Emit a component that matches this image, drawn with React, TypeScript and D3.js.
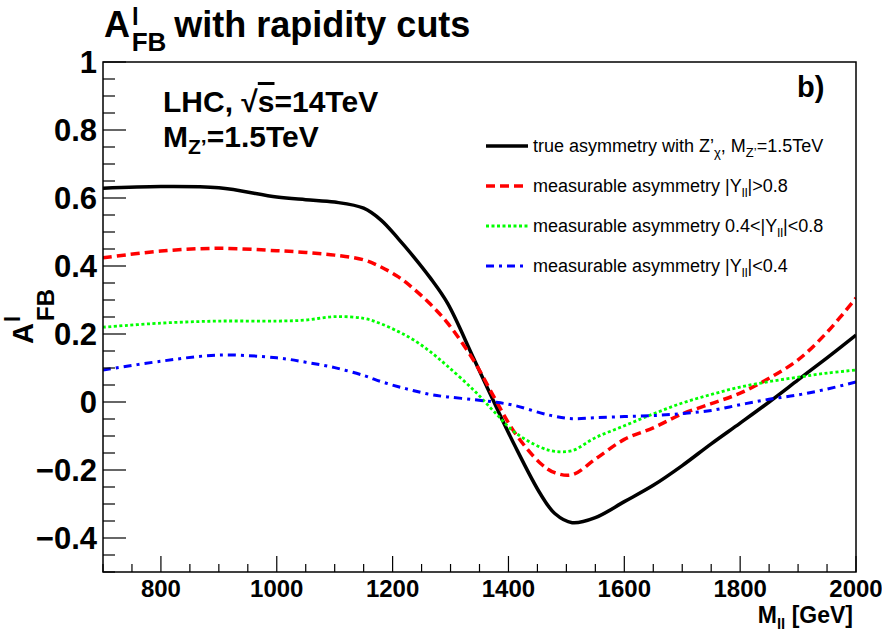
import React from "react";
import * as d3 from "d3";

const massGrid = [700, 800, 900, 1000, 1050, 1100, 1150, 1180, 1210, 1235, 1265, 1295, 1340, 1375, 1410, 1455, 1480, 1510, 1550, 1600, 1650, 1700, 1750, 1800, 1850, 1900, 1950, 2000];
const trueAfb = [0.629, 0.634, 0.63, 0.603, 0.595, 0.588, 0.57, 0.535, 0.48, 0.43, 0.365, 0.29, 0.128, 0.0, -0.125, -0.27, -0.328, -0.355, -0.34, -0.293, -0.245, -0.187, -0.123, -0.062, 0.0, 0.065, 0.13, 0.197];
const redAfb = [0.424, 0.444, 0.452, 0.445, 0.44, 0.432, 0.418, 0.397, 0.368, 0.335, 0.288, 0.232, 0.122, 0.015, -0.088, -0.18, -0.208, -0.214, -0.168, -0.11, -0.076, -0.035, -0.005, 0.026, 0.07, 0.124, 0.205, 0.306];
const greenAfb = [0.22, 0.232, 0.238, 0.238, 0.241, 0.251, 0.246, 0.23, 0.207, 0.184, 0.148, 0.105, 0.035, -0.028, -0.088, -0.133, -0.145, -0.143, -0.105, -0.07, -0.035, -0.003, 0.022, 0.044, 0.06, 0.073, 0.085, 0.094];
const blueAfb = [0.094, 0.12, 0.138, 0.13, 0.117, 0.101, 0.078, 0.06, 0.045, 0.034, 0.022, 0.015, 0.007, 0.0, -0.01, -0.032, -0.042, -0.049, -0.046, -0.043, -0.04, -0.034, -0.025, -0.008, 0.008, 0.021, 0.038, 0.059];

const xMajorTicks = [800, 1000, 1200, 1400, 1600, 1800, 2000];
const yMajorTicks = [-0.4, -0.2, 0, 0.2, 0.4, 0.6, 0.8, 1];

const FONT = "'Liberation Sans', Arial, Helvetica, sans-serif";

export default function App() {
  const left = 103, right = 856, top = 62, bottom = 572;
  const x = d3.scaleLinear().domain([700, 2000]).range([left, right]);
  const y = d3.scaleLinear().domain([-0.5, 1]).range([bottom, top]);

  const line = (vals: number[]) =>
    d3.line<number>().x((_, i) => x(massGrid[i])).y((v) => y(v)).curve(d3.curveCatmullRom.alpha(0.5))(vals) || "";

  const xMinor = d3.range(700, 2000.1, 50).filter((m) => m % 200 !== 0);
  const yMinor = d3.range(-0.5, 1.0001, 0.05).map((v) => +v.toFixed(2)).filter((v) => Math.abs(Math.round(v * 5) - v * 5) > 1e-6);

  const series = [
    { vals: trueAfb, color: "#000", width: 3.5, dash: undefined as string | undefined },
    { vals: redAfb, color: "#ff0000", width: 3.5, dash: "9,5" },
    { vals: greenAfb, color: "#00ff00", width: 2.8, dash: "3,2.5" },
    { vals: blueAfb, color: "#0000ff", width: 3, dash: "8,5,3,5" },
  ];

  const legendY = [146, 186, 226, 266];

  return (
    <svg width={882} height={632} style={{ position: "absolute", left: 0, top: 0, background: "#fff" }} fontFamily={FONT}>
      <rect x={0} y={0} width={882} height={632} fill="#fff" />
      {/* title */}
      <text x={104} y={37} fontSize={36} fontWeight="bold">
        A<tspan fontSize={24} dx={2} dy={-12}>l</tspan>
        <tspan fontSize={26} dx={-7} dy={26}>FB</tspan>
        <tspan dx={8} dy={-14}>with rapidity cuts</tspan>
      </text>

      <defs>
        <clipPath id="plotclip">
          <rect x={left} y={top} width={right - left} height={bottom - top} />
        </clipPath>
      </defs>

      {/* curves */}
      <g clipPath="url(#plotclip)">
        {series.map((s, i) => (
          <path key={i} d={line(s.vals)} fill="none" stroke={s.color} strokeWidth={s.width} strokeDasharray={s.dash} />
        ))}
      </g>

      {/* frame */}
      <rect x={left} y={top} width={right - left} height={bottom - top} fill="none" stroke="#000" strokeWidth={1.5} />

      {/* y ticks */}
      {yMajorTicks.map((v) => (
        <g key={"ym" + v}>
          <line x1={left} x2={left + 23} y1={y(v)} y2={y(v)} stroke="#000" strokeWidth={1.2} />
          <text x={97} y={y(v) + 11} fontSize={31} fontWeight="bold" textAnchor="end">
            {v === 0 ? "0" : v === 1 ? "1" : d3.format(".1f")(v)}
          </text>
        </g>
      ))}
      {yMinor.map((v) => (
        <line key={"yn" + v} x1={left} x2={left + 12} y1={y(v)} y2={y(v)} stroke="#000" strokeWidth={1.2} />
      ))}

      {/* x ticks */}
      {xMajorTicks.map((m) => (
        <g key={"xm" + m}>
          <line x1={x(m)} x2={x(m)} y1={bottom} y2={bottom - 16} stroke="#000" strokeWidth={1.2} />
          <text x={x(m)} y={bottom + 25} fontSize={24} fontWeight="bold" textAnchor="middle">{m}</text>
        </g>
      ))}
      {xMinor.map((m) => (
        <line key={"xn" + m} x1={x(m)} x2={x(m)} y1={bottom} y2={bottom - 8} stroke="#000" strokeWidth={1.2} />
      ))}

      {/* axis titles */}
      <text x={853} y={623} fontSize={23} fontWeight="bold" textAnchor="end">
        M<tspan fontSize={15} dy={6}>ll</tspan><tspan dy={-6}> [GeV]</tspan>
      </text>
      <g transform="translate(33,344) rotate(-90)">
        <text x={0} y={0} fontSize={29} fontWeight="bold">
          A<tspan fontSize={22} dx={1} dy={-13}>l</tspan>
          <tspan fontSize={24} dx={-5} dy={34}>FB</tspan>
        </text>
      </g>

      {/* labels */}
      <text x={163} y={112} fontSize={30} fontWeight="bold">
        LHC, <tspan>√</tspan><tspan textDecoration="overline">s</tspan>=14TeV
      </text>
      <text x={163} y={147} fontSize={30} fontWeight="bold">
        M<tspan fontSize={21} dy={7}>Z’</tspan><tspan dy={-7}>=1.5TeV</tspan>
      </text>
      <text x={797} y={97} fontSize={29} fontWeight="bold">b)</text>

      {/* legend */}
      {series.map((s, i) => (
        <line key={"lg" + i} x1={486} x2={528} y1={legendY[i]} y2={legendY[i]} stroke={s.color} strokeWidth={s.width} strokeDasharray={s.dash} />
      ))}
      <text x={533} y={legendY[0] + 6} fontSize={18}>
        true asymmetry with Z’<tspan fontSize={13} dy={5}>χ</tspan><tspan dy={-5}>, M</tspan><tspan fontSize={13} dy={5}>Z’</tspan><tspan dy={-5}>=1.5TeV</tspan>
      </text>
      <text x={533} y={legendY[1] + 6} fontSize={18}>
        measurable asymmetry |Y<tspan fontSize={13} dy={5}>ll</tspan><tspan dy={-5}>|&gt;0.8</tspan>
      </text>
      <text x={533} y={legendY[2] + 6} fontSize={18}>
        measurable asymmetry 0.4&lt;|Y<tspan fontSize={13} dy={5}>ll</tspan><tspan dy={-5}>|&lt;0.8</tspan>
      </text>
      <text x={533} y={legendY[3] + 6} fontSize={18}>
        measurable asymmetry |Y<tspan fontSize={13} dy={5}>ll</tspan><tspan dy={-5}>|&lt;0.4</tspan>
      </text>
    </svg>
  );
}
